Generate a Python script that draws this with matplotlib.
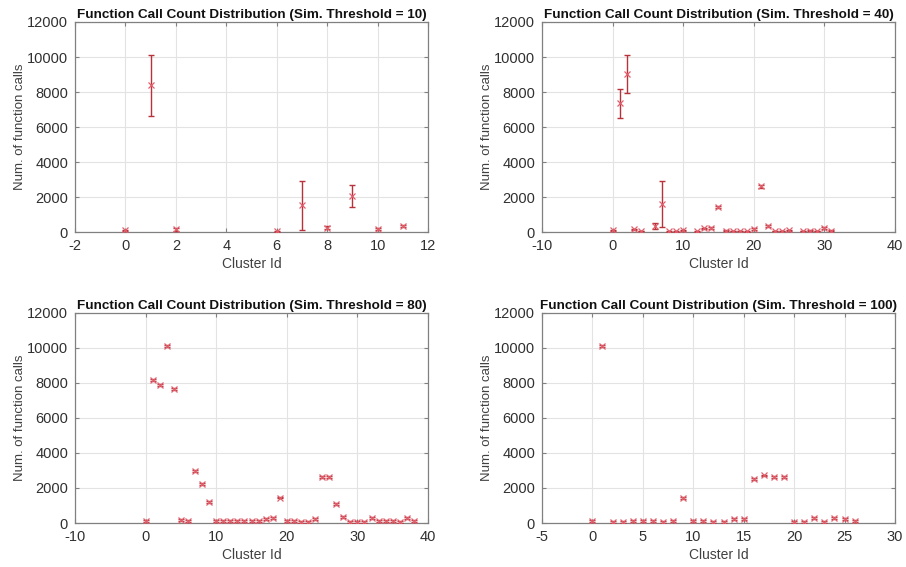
import matplotlib
matplotlib.use("Agg")
import matplotlib.pyplot as plt
import numpy as np

plt.rcParams['font.family'] = ['Liberation Sans', 'DejaVu Sans']
plt.rcParams['axes.unicode_minus'] = False

# Threshold = 10
ids_10 = [0, 1, 2, 6, 7, 8, 9, 10, 11]
mean_10 = [90, 8380, 150, 55, 1520, 250, 2080, 190, 360]
err_10 = [40, 1760, 100, 30, 1420, 80, 630, 60, 50]

# Threshold = 40
ids_40 = [0, 1, 2, 3, 4, 6, 7, 8, 9, 10, 12, 13, 14, 15, 16, 17, 18, 19, 20,
          21, 22, 23, 24, 25, 27, 28, 29, 30, 31]
mean_40 = [90, 7360, 9040, 150, 60, 330, 1600, 40, 40, 95, 40, 210, 230, 1440,
           75, 55, 55, 40, 175, 2610, 345, 55, 55, 95, 55, 75, 55, 250, 75]
err_40 = [40, 830, 1100, 40, 20, 160, 1340, 20, 20, 40, 20, 40, 40, 60,
          20, 20, 20, 20, 40, 80, 50, 20, 20, 30, 20, 20, 20, 50, 20]

# Threshold = 80
ids_80 = list(range(0, 39))
mean_80 = [110, 8190, 7900, 10130, 7660, 170, 95, 2950, 2230, 1180,
           95, 95, 95, 110, 110, 95, 95, 250, 285, 1450,
           110, 110, 75, 75, 230, 2630, 2620, 1105, 340, 75,
           75, 75, 305, 110, 95, 110, 75, 265, 130]
err_80 = [50] * 39

# Threshold = 100
ids_100 = list(range(0, 27))
mean_100 = [110, 10110, 55, 75, 110, 95, 110, 75, 130, 1430,
            110, 110, 55, 55, 210, 210, 2500, 2720, 2610, 2610,
            75, 55, 305, 75, 265, 250, 110]
err_100 = [50] * 27

panels = [
    (10, ids_10, mean_10, err_10, (-2, 12), np.arange(-2, 13, 2)),
    (40, ids_40, mean_40, err_40, (-10, 40), np.arange(-10, 41, 10)),
    (80, ids_80, mean_80, err_80, (-10, 40), np.arange(-10, 41, 10)),
    (100, ids_100, mean_100, err_100, (-5, 30), np.arange(-5, 31, 5)),
]

positions = [
    [0.0828, 0.5908, 0.3896, 0.3704],
    [0.5982, 0.5908, 0.3896, 0.3704],
    [0.0828, 0.0776, 0.3896, 0.3704],
    [0.5982, 0.0776, 0.3896, 0.3704],
]

bar_color = '#b8323c'
mark_color = '#e0606c'
text_color = '#303030'
spine_color = '#808080'

fig = plt.figure(figsize=(9.06, 5.67), dpi=100)
fig.patch.set_facecolor('white')

for (thr, ids, mean, err, xlim, xticks), pos in zip(panels, positions):
    ax = fig.add_axes(pos)
    ax.errorbar(ids, mean, yerr=err, fmt='none', ecolor=bar_color,
                elinewidth=1.0, capsize=2.5, capthick=1.0, zorder=3)
    ax.plot(ids, mean, linestyle='none', marker='x', markersize=5,
            markeredgewidth=0.9, color=mark_color, zorder=4)
    ax.set_xlim(*xlim)
    ax.set_ylim(0, 12000)
    ax.set_xticks(xticks)
    ax.set_yticks(np.arange(0, 12001, 2000))
    ax.grid(True, color='#e3e3e3', linewidth=0.8)
    ax.set_axisbelow(True)
    for sp in ax.spines.values():
        sp.set_color(spine_color)
        sp.set_linewidth(0.9)
    ax.tick_params(direction='in', length=3, color=spine_color,
                   labelsize=10.5, labelcolor=text_color, top=True, right=True,
                   pad=5)
    ax.set_title(f'Function Call Count Distribution (Sim. Threshold = {thr})',
                 fontsize=9.7, fontweight='bold', color='#111111', pad=3)
    ax.set_xlabel('Cluster Id', fontsize=10, color='#404040', labelpad=3)
    ax.set_ylabel('Num. of function calls', fontsize=9.5, color='#404040',
                  labelpad=1)

fig.savefig('out.png', dpi=100, facecolor='white')
